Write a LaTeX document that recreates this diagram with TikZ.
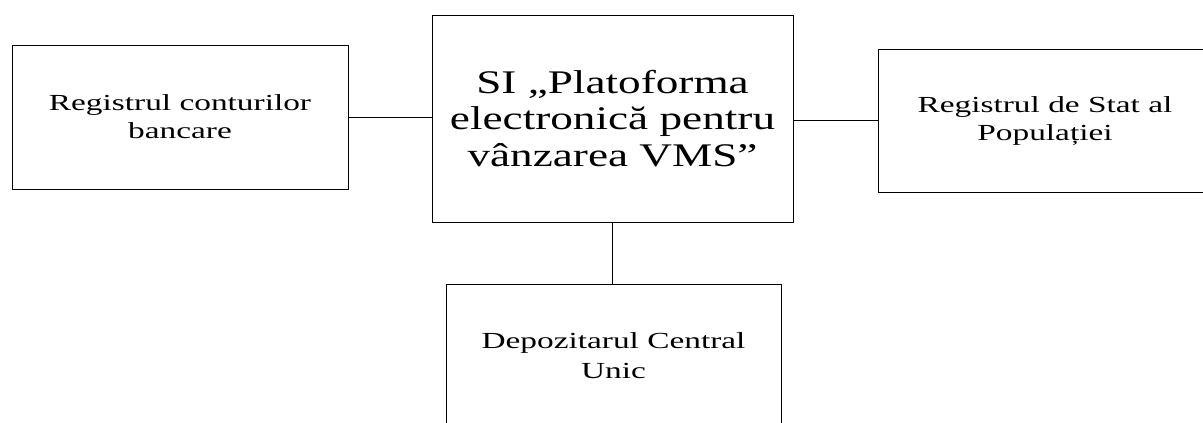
\documentclass[tikz,border=0pt]{standalone}
\usepackage{fontspec}
\setmainfont{Liberation Serif}
\newfontfamily\bigf[FakeStretch=1.37]{Liberation Serif}
\newfontfamily\smallf[FakeStretch=1.45]{Liberation Serif}
\begin{document}
\begin{tikzpicture}[x=1pt,y=-1pt,
  box/.style={draw=black,line width=1pt,rectangle,inner sep=0pt,align=center,anchor=center},
  smalltext/.style={font=\smallf\fontsize{23}{28}\selectfont},
  bigtext/.style={font=\bigf\fontsize{33}{36.5}\selectfont},
  link/.style={draw=black,line width=1pt}]
\useasboundingbox (0,0) rectangle (1203,423);
\clip (0,0) rectangle (1203,423);
\fill[white] (0,0) rectangle (1203,423);
\node[box,smalltext,minimum width=336pt,minimum height=144pt] (reg) at (180,117) {Registrul conturilor\\bancare};
\node[box,bigtext,minimum width=361pt,minimum height=207pt,yshift=-3pt] (si) at (612.5,115.5) {SI „Platoforma\\electronică pentru\\vânzarea VMS”};
\node[box,smalltext,minimum width=334pt,minimum height=143pt] (pop) at (1045,120.5) {Registrul de Stat al\\Populației};
\node[box,minimum width=335pt,minimum height=161pt,
  label={[smalltext,font=\smallf\fontsize{23}{30}\selectfont,align=center,inner sep=0pt,yshift=9pt]center:Depozitarul Central\\Unic}] (dep) at (613.5,364.5) {};
\draw[link] (reg.east) -- (reg.east -| si.west);
\draw[link] (si.east |- pop.west) -- (pop.west);
\draw[link] (si.south) -- (si.south |- dep.north);
\end{tikzpicture}
\end{document}
